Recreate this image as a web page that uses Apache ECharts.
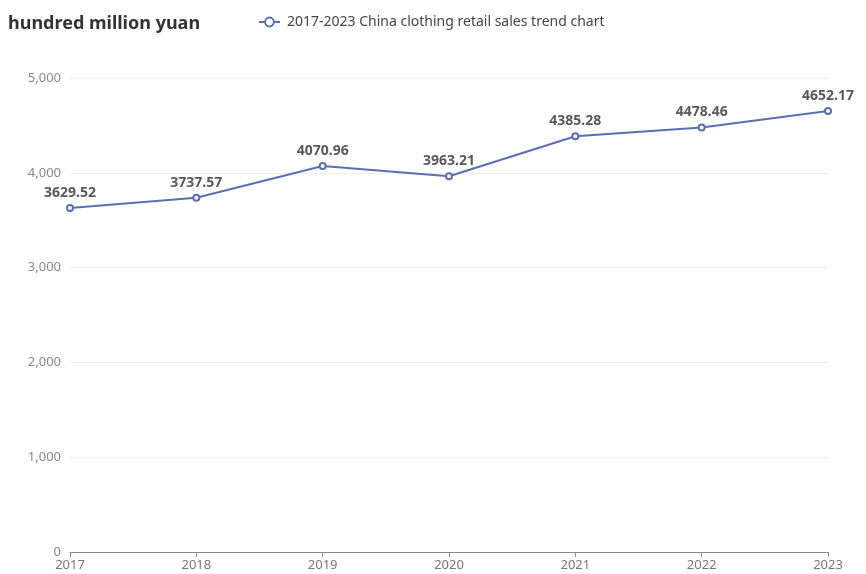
<!DOCTYPE html>
<html>
<head>
<meta charset="utf-8">
<script src="https://cdn.jsdelivr.net/npm/echarts@6/dist/echarts.min.js"></script>
<style>html,body{margin:0;padding:0;background:#fff;}#chart{width:866px;height:574px;}</style>
</head>
<body>
<div id="chart"></div>
<script>
// Annual retail sales of clothing in China, hundred million yuan
const years = ['2017', '2018', '2019', '2020', '2021', '2022', '2023'];
const sales = [3629.52, 3737.57, 4070.96, 3963.21, 4385.28, 4478.46, 4652.17];
const seriesName = '2017-2023 China clothing retail sales trend chart';

const lineColor = '#5a6fb2';

const chart = echarts.init(document.getElementById('chart'));
chart.setOption({
  backgroundColor: '#fff',
  textStyle: { fontFamily: 'Noto Sans' },
  title: {
    text: 'hundred million yuan',
    left: 3, top: 10,
    textStyle: { fontSize: 18, fontWeight: 'bold', color: '#333', fontFamily: 'Noto Sans' }
  },
  legend: {
    left: 253, top: 10,
    itemWidth: 21, itemHeight: 11,
    itemGap: 8,
    textStyle: { fontSize: 14, color: '#444', padding: [0, 0, 0, 2] },
    data: [seriesName]
  },
  grid: { left: 70, right: 38, top: 78, bottom: 22 },
  xAxis: {
    type: 'category',
    data: years,
    boundaryGap: false,
    axisLine: { lineStyle: { color: '#8a8a8a' } },
    axisTick: { alignWithLabel: true, lineStyle: { color: '#8a8a8a' } },
    axisLabel: { color: '#777', fontSize: 13, margin: 7 }
  },
  yAxis: {
    type: 'value',
    min: 0, max: 5000, interval: 1000,
    axisLabel: { color: '#888', fontSize: 13, margin: 9 },
    splitLine: { lineStyle: { color: '#eeeeee' } }
  },
  series: [{
    name: seriesName,
    type: 'line',
    data: sales,
    symbol: 'emptyCircle',
    symbolSize: 6,
    itemStyle: { color: lineColor },
    lineStyle: { width: 2, color: lineColor },
    label: {
      show: true, position: 'top', distance: 4,
      color: '#595959', fontSize: 14, fontWeight: 'bold'
    }
  }]
});
</script>
</body>
</html>
